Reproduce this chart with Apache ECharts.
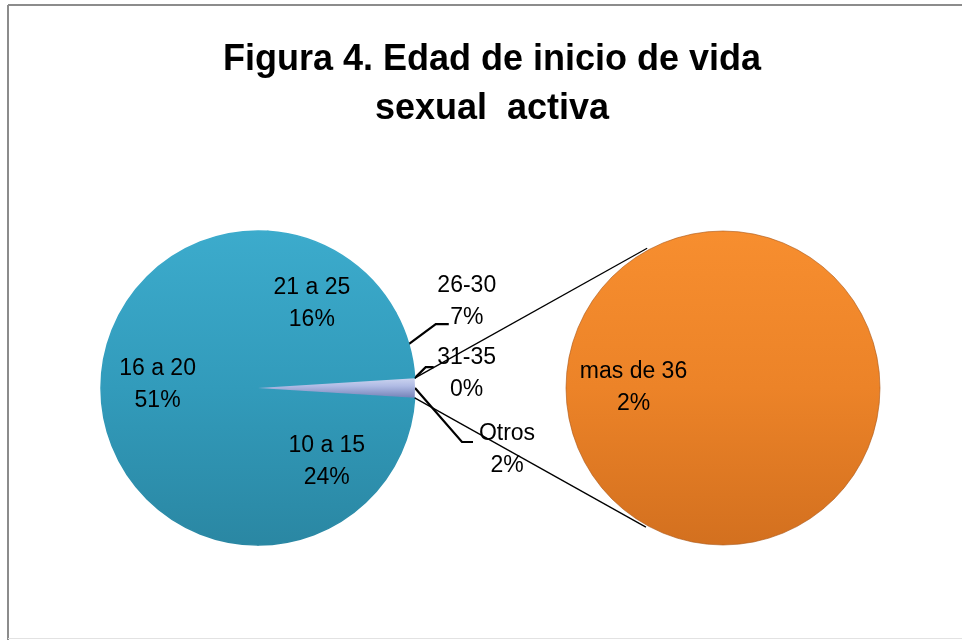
<!DOCTYPE html>
<html>
<head>
<meta charset="utf-8">
<title>Figura 4</title>
<script src="https://cdn.jsdelivr.net/npm/echarts@6/dist/echarts.min.js"></script>
<style>
  html, body { margin: 0; padding: 0; background: #fff; }
  #chart { width: 962px; height: 640px; }
</style>
</head>
<body>
<div id="chart"></div>
<script>
// datos (porcentajes)
const categories = ['10 a 15', '16 a 20', '21 a 25', '26-30', '31-35', 'Otros'];
const values = [24, 51, 16, 7, 0, 2];
const subCategories = ['mas de 36'];
const subValues = [2];

// geometria
const mainCenter = [258, 388];
const subCenter = [723, 388];
const radius = 157;
const fontFam = "'Liberation Sans', Arial, sans-serif";

const total = values.reduce((a, b) => a + b, 0);
const otrosIdx = categories.indexOf('Otros');
// Otros centrado a las 3 en punto
const startAngle = -values[otrosIdx] / total * 180;

// angulo medio de cada porcion (grados, sentido matematico)
const midAngles = [];
let acc = startAngle;
values.forEach(v => {
  const span = v / total * 360;
  midAngles.push(acc - span / 2);
  acc -= span;
});

// etiquetas fuera del circulo: codo, fin de linea y centro de etiqueta relativos al borde
const outerLabels = {
  '26-30': { knee: [27, -20], end: [40, -20], label: [58, -43] },
  '31-35': { knee: [11, -11], end: [19, -11], label: [52, -4] },
  'Otros': { knee: [47, 54], end: [58, 54], label: [92, 62] }
};
const innerFactor = 0.64;

function rad(d) { return d * Math.PI / 180; }
function onCircle(c, r, deg) {
  return [c[0] + r * Math.cos(rad(deg)), c[1] - r * Math.sin(rad(deg))];
}

const tealGradient = {
  type: 'linear', global: true,
  x: 0, y: mainCenter[1] - radius, x2: 0, y2: mainCenter[1] + radius,
  colorStops: [
    { offset: 0, color: '#3cabcc' },
    { offset: 0.5, color: '#329bbb' },
    { offset: 1, color: '#2a87a3' }
  ]
};

const chart = echarts.init(document.getElementById('chart'));

const mainData = categories.map((name, i) => {
  const item = { name: name, value: values[i] };
  if (!outerLabels[name]) {
    item.label = { position: 'inside' };
    item.labelLine = { show: false };
  }
  if (name === 'Otros') {
    item.itemStyle = {
      borderWidth: 0,
      color: {
        type: 'linear', x: 0, y: 0, x2: 0, y2: 1,
        colorStops: [
          { offset: 0, color: '#ccd4f0' },
          { offset: 0.4, color: '#b0bbe4' },
          { offset: 1, color: '#7482b8' }
        ]
      }
    };
  }
  return item;
});

// lineas de union entre los dos circulos
const otrosHalf = values[otrosIdx] / total * 180;
const pTop = onCircle(mainCenter, radius, otrosHalf);
const pBot = onCircle(mainCenter, radius, -otrosHalf);
const qTop = onCircle(subCenter, radius + 2, 118.5);
const qBot = onCircle(subCenter, radius + 2, -119);

const option = {
  animation: false,
  backgroundColor: '#fff',
  title: {
    text: 'Figura 4. Edad de inicio de vida\nsexual  activa',
    left: 487,
    top: 31,
    textAlign: 'center',
    textStyle: {
      fontFamily: fontFam,
      fontSize: 36,
      fontWeight: 'bold',
      lineHeight: 49,
      color: '#000'
    }
  },
  graphic: [
    { type: 'line', shape: { x1: 8, y1: 5, x2: 8, y2: 640 }, style: { stroke: '#8c8c8c', lineWidth: 2 } },
    { type: 'line', shape: { x1: 8, y1: 5, x2: 962, y2: 5 }, style: { stroke: '#8c8c8c', lineWidth: 2 } },
    { type: 'line', shape: { x1: 8, y1: 638.5, x2: 962, y2: 638.5 }, style: { stroke: '#e2e2e2', lineWidth: 1 } },
    { type: 'line', z: 10, shape: { x1: pTop[0], y1: pTop[1], x2: qTop[0], y2: qTop[1] }, style: { stroke: '#000', lineWidth: 1.3 } },
    { type: 'line', z: 10, shape: { x1: pBot[0], y1: pBot[1], x2: qBot[0], y2: qBot[1] }, style: { stroke: '#000', lineWidth: 1.3 } }
  ],
  series: [
    {
      name: 'Edad',
      type: 'pie',
      center: mainCenter,
      radius: radius,
      startAngle: startAngle,
      clockwise: true,
      avoidLabelOverlap: false,
      stillShowZeroSum: true,
      minShowLabelAngle: 0,
      itemStyle: {
        borderWidth: 1.5,
        borderColor: tealGradient,
        color: tealGradient
      },
      label: {
        show: true,
        position: 'outside',
        formatter: '{b}\n{c}%',
        fontFamily: fontFam,
        fontSize: 23,
        lineHeight: 32,
        color: '#000',
        align: 'center'
      },
      labelLine: {
        show: true,
        length: 20,
        length2: 10,
        lineStyle: { color: '#000', width: 2.2 }
      },
      labelLayout: function (p) {
        const i = p.dataIndex;
        const name = categories[i];
        const a = midAngles[i];
        const o = outerLabels[name];
        if (!o) {
          const pt = onCircle(mainCenter, radius * innerFactor, a);
          return { x: pt[0], y: pt[1], align: 'center', verticalAlign: 'middle' };
        }
        const e = onCircle(mainCenter, radius, a);
        return {
          x: e[0] + o.label[0],
          y: e[1] + o.label[1],
          align: 'center',
          verticalAlign: 'middle',
          labelLinePoints: [
            [e[0], e[1]],
            [e[0] + o.knee[0], e[1] + o.knee[1]],
            [e[0] + o.end[0], e[1] + o.end[1]]
          ]
        };
      },
      emphasis: { disabled: true },
      data: mainData
    },
    {
      name: 'Otros',
      type: 'pie',
      center: subCenter,
      radius: radius,
      startAngle: 0,
      itemStyle: {
        borderWidth: 1,
        borderColor: 'rgba(170,85,20,0.6)',
        color: {
          type: 'linear', x: 0, y: 0, x2: 0, y2: 1,
          colorStops: [
            { offset: 0, color: '#f78e2f' },
            { offset: 0.5, color: '#ec8328' },
            { offset: 1, color: '#d3701f' }
          ]
        }
      },
      label: {
        show: true,
        position: 'inside',
        formatter: '{b}\n{c}%',
        fontFamily: fontFam,
        fontSize: 23,
        lineHeight: 32,
        color: '#000'
      },
      labelLine: { show: false },
      labelLayout: { dx: -8 },
      emphasis: { disabled: true },
      data: subCategories.map((n, i) => ({ name: n, value: subValues[i] }))
    }
  ]
};

chart.setOption(option);
window.addEventListener('resize', () => chart.resize());
</script>
</body>
</html>
